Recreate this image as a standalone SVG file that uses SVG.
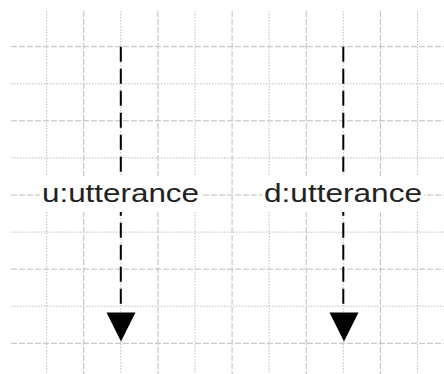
<svg xmlns="http://www.w3.org/2000/svg" width="444" height="374" viewBox="0 0 444 374">
<style>
.major{stroke:#bdbdbd;stroke-width:1;stroke-dasharray:6 2;fill:none}
.minor{stroke:#bdbdbd;stroke-width:1;stroke-dasharray:1.5 1.5;fill:none}
.life{stroke:#000;stroke-width:2;stroke-dasharray:15 7;fill:none}
.head{fill:#000}
.lbl{font-family:"Liberation Sans",Arial,sans-serif;font-size:26px;fill:#222}
.bg{fill:#fff}
</style>
<rect width="444" height="374" fill="#fff"/>
<g id="grid">
<path class="minor" d="M46.7 11V374M120.8 11V374M195 11V374M269.1 11V374M343.3 11V374M417.5 11V374"/>
<path class="major" d="M83.8 11V374M157.9 11V374M232.1 11V374M306.2 11V374M380.4 11V374"/>
<path class="major" d="M11 46.7H444M11 120.8H444M11 195H444M11 269.1H444M11 343.3H444"/>
<path class="minor" d="M11 83.8H444M11 157.9H444M11 232.1H444M11 306.2H444"/>
</g>
<g id="connectors">
<path class="life" d="M120.8 46.7V310"/>
<polygon class="head" points="106.5,312.5 135.5,312.5 121,341.5"/>
<path class="life" d="M343.3 46.7V310"/>
<polygon class="head" points="329.5,312.5 358.5,312.5 344,341.5"/>
</g>
<g id="u-utterance">
<rect class="bg" x="40" y="176" width="161" height="36"/>
<text class="lbl" x="42" y="202" textLength="157" lengthAdjust="spacingAndGlyphs">u:utterance</text>
</g>
<g id="d-utterance">
<rect class="bg" x="262" y="176" width="162" height="36"/>
<text class="lbl" x="264" y="202" textLength="158" lengthAdjust="spacingAndGlyphs">d:utterance</text>
</g>
</svg>
